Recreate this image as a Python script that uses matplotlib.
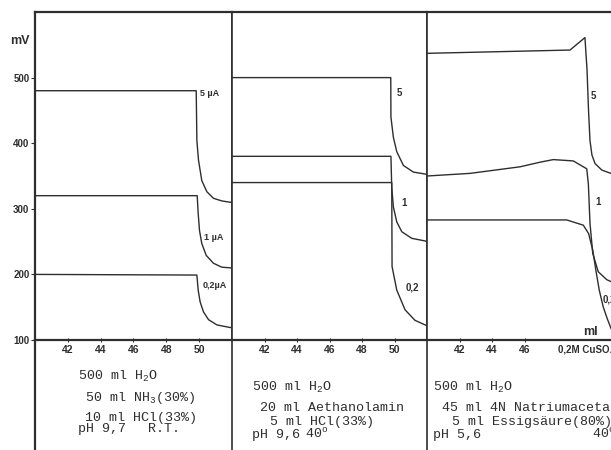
import matplotlib.pyplot as plt
from matplotlib.lines import Line2D

plt.rcParams['mathtext.fontset'] = 'custom'
plt.rcParams['mathtext.rm'] = 'Liberation Mono'
plt.rcParams['mathtext.it'] = 'Liberation Mono'

W, H = 611, 450
INK = '#2e2e2e'
SANS = ['Liberation Sans', 'DejaVu Sans']
MONO = 'Liberation Mono'

# ---- data (ml added, mV) ----
# panel 1: NH3 buffer, three currents
p1_5_ml = [40.0, 49.82, 49.86, 49.96, 50.16, 50.47, 50.87, 51.38, 51.89, 52.0]
p1_5_mv = [480, 480, 404, 374, 343, 326, 316, 312, 310, 310]
p1_1_ml = [40.0, 49.88, 49.94, 50.02, 50.16, 50.43, 50.87, 51.38, 51.89, 52.0]
p1_1_mv = [320, 320, 293, 267, 247, 229, 217, 211, 210, 210]
p1_02_ml = [40.0, 49.86, 49.94, 50.06, 50.26, 50.57, 51.08, 51.89, 52.0]
p1_02_mv = [200, 199, 176, 158, 143, 131, 123, 119, 119]

# panel 2: Aethanolamin buffer
p2_5_ml = [40.0, 49.77, 49.78, 49.93, 50.14, 50.55, 51.16, 51.88, 52.0]
p2_5_mv = [500, 500, 440, 409, 387, 366, 356, 353, 352]
p2_1_ml = [40.0, 49.78, 49.83, 49.93, 50.14, 50.45, 51.06, 51.88, 52.0]
p2_1_mv = [380, 380, 333, 303, 280, 265, 255, 251, 250]
p2_02_ml = [40.0, 49.83, 49.85, 50.14, 50.65, 51.26, 51.88, 52.0]
p2_02_mv = [340, 340, 212, 176, 146, 130, 123, 122]

# panel 3: Natriumacetat buffer
p3_5_ml = [40.0, 48.8, 49.72, 49.85, 49.94, 50.03, 50.15, 50.34, 50.76, 51.32, 52.0]
p3_5_mv = [537, 542, 561, 511, 450, 404, 382, 369, 359, 354, 352]
p3_1_ml = [40.0, 42.65, 45.72, 46.95, 47.77, 49.0, 49.83, 49.93, 50.03, 50.2, 50.54, 51.06, 51.32, 52.0]
p3_1_mv = [350, 354, 364, 371, 375, 373, 361, 338, 278, 232, 204, 192, 189, 186]
p3_02_ml = [40.0, 48.6, 49.62, 49.95, 50.2, 50.4, 50.6, 50.85, 51.1, 51.32, 51.6]
p3_02_mv = [283, 283, 275, 262, 237, 205, 176, 150, 132, 118, 104]

panel_curves = [
    [(p1_5_ml, p1_5_mv), (p1_1_ml, p1_1_mv), (p1_02_ml, p1_02_mv)],
    [(p2_5_ml, p2_5_mv), (p2_1_ml, p2_1_mv), (p2_02_ml, p2_02_mv)],
    [(p3_5_ml, p3_5_mv), (p3_1_ml, p3_1_mv), (p3_02_ml, p3_02_mv)],
]
mv_ticks = [100, 200, 300, 400, 500]
ml_ticks = [[42, 44, 46, 48, 50], [42, 44, 46, 48, 50], [42, 44, 46]]

recipes = [
    ['500 ml H$_2$O', '50 ml NH$_3$(30%)', '10 ml HCl(33%)', 'pH 9,7'],
    ['500 ml H$_2$O', '20 ml Aethanolamin', '5 ml HCl(33%)', 'pH 9,6'],
    ['500 ml H$_2$O', '45 ml 4N Natriumacetat', '5 ml Essigsäure(80%)', 'pH 5,6'],
]
temps = ['R.T.', '40$^{o}$', '40$^{o}$']
curve_labels = [['5 µA', '1 µA', '0,2µA'], ['5', '1', '0,2'], ['5', '1', '0,2']]

# ---- layout in pixels of the scan ----
lefts = [35, 232, 427]
widths = [197, 195, 195]
top, base = 12, 340


def fx(x):
    return x / W


def fy(y):
    return 1 - y / H


fig = plt.figure(figsize=(W / 100, H / 100), dpi=100)
fig.patch.set_facecolor('white')

for i, (l, w) in enumerate(zip(lefts, widths)):
    ax = fig.add_axes([fx(l), fy(base), w / W, (base - top) / H])
    for ml, mv in panel_curves[i]:
        ax.plot(ml, mv, color=INK, lw=1.0, solid_joinstyle='round')
    ax.set_xlim(40, 52)
    ax.set_ylim(100, 600)
    for side, sp in ax.spines.items():
        sp.set_color(INK)
        sp.set_linewidth(1.6 if side in ('top', 'bottom') else 1.2)
    ax.set_xticks(ml_ticks[i])
    ax.set_xticklabels([str(t) for t in ml_ticks[i]], fontsize=7.5,
                       fontweight='bold', family=SANS, color=INK)
    ax.tick_params(axis='x', direction='inout', length=3, width=0.8,
                   pad=2, colors=INK)
    if i == 0:
        ax.spines['left'].set_linewidth(1.6)
        ax.set_yticks(mv_ticks)
        ax.set_yticklabels([str(t) for t in mv_ticks], fontsize=7,
                           fontweight='bold', family=SANS, color=INK)
        ax.tick_params(axis='y', direction='out', length=3, width=0.8,
                       pad=1, colors=INK)
    else:
        ax.set_yticks([])

# vertical rules through the recipe area
for i, x in enumerate(lefts):
    fig.add_artist(Line2D([fx(x), fx(x)], [0, fy(base)], color=INK,
                          lw=1.6 if i == 0 else 1.2))

# axis words
fig.text(fx(20), fy(41), 'mV', fontsize=9, fontweight='bold', family=SANS,
         color=INK, ha='center', va='center')
fig.text(fx(583), fy(332), 'ml', fontsize=9, fontweight='bold', family=SANS,
         color=INK, ha='left', va='center')
fig.text(fx(558), fy(350), '0,2M CuSO₄', fontsize=7, fontweight='bold',
         family=SANS, color=INK, ha='left', va='center')

# curve labels
label_pos = [
    [(200, 94), (204, 238), (203, 285)],
    [(397, 93), (401, 203), (406, 287)],
    [(591, 96), (595, 202), (603, 300)],
]
for i in range(3):
    for s, (x, y) in zip(curve_labels[i], label_pos[i]):
        fig.text(fx(x), fy(y), s, fontsize=6.5 if i == 0 else 7,
                 fontweight='bold', family=SANS, color=INK,
                 ha='left', va='center')

# typed recipes under each panel
line_pos = [
    [(78, 380), (85, 401), (85, 421), (78, 432)],
    [(252, 391), (260, 411), (270, 425), (252, 438)],
    [(433, 391), (442, 411), (452, 425), (433, 438)],
]
temp_pos = [(148, 432), (305, 438), (592, 438)]
for i in range(3):
    for s, (x, y) in zip(recipes[i], line_pos[i]):
        fig.text(fx(x), fy(y), s, fontsize=9.6, family=MONO, color=INK,
                 ha='left', va='baseline')
    x, y = temp_pos[i]
    fig.text(fx(x), fy(y), temps[i], fontsize=9.6, family=MONO, color=INK,
             ha='left', va='baseline')

fig.savefig('out.png', dpi=100)
plt.close(fig)
